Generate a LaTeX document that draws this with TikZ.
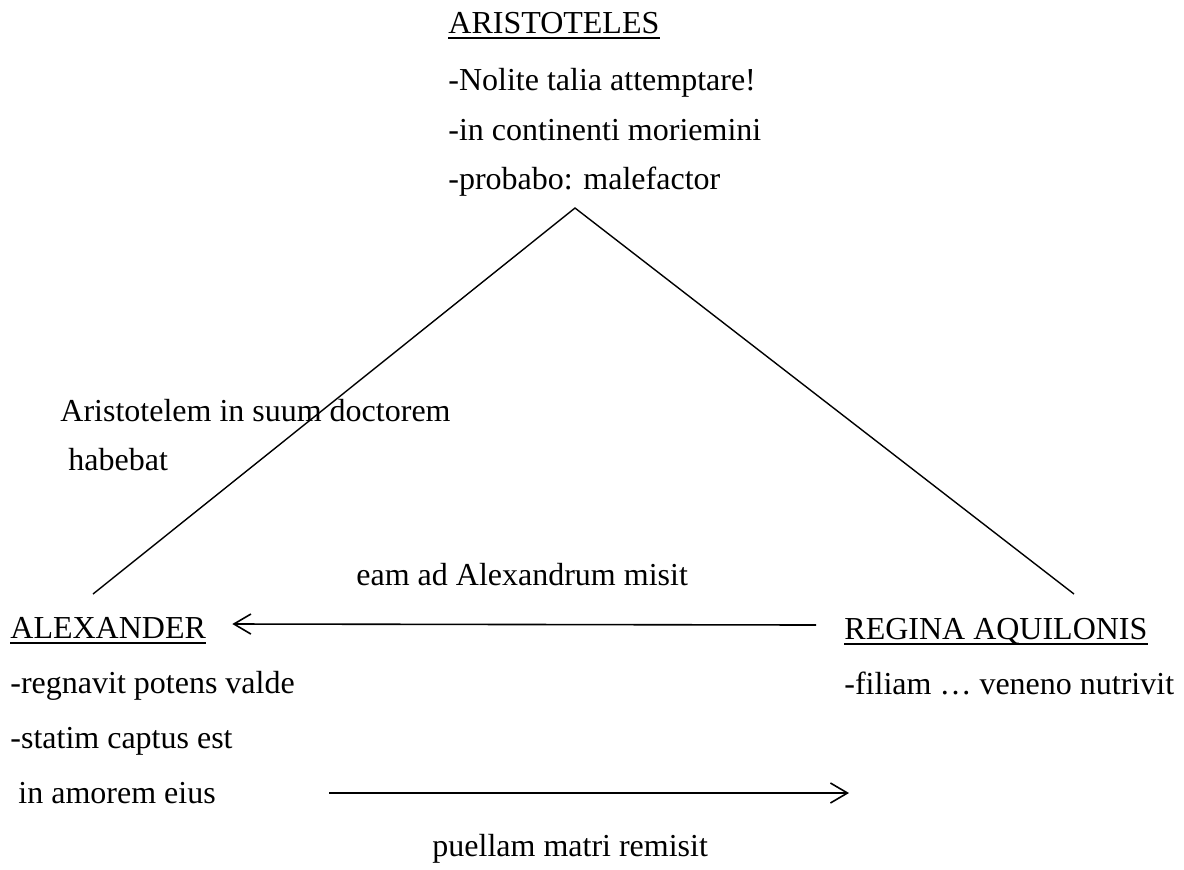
\documentclass[tikz,border=0pt]{standalone}
\usepackage{fontspec}
\setmainfont{Liberation Serif}
\usetikzlibrary{arrows.meta, positioning}
\tikzset{
  txt/.style={anchor=base west, inner sep=0pt, font=\fontsize{16}{19}\selectfont},
  uline/.style={line width=1pt},
  link/.style={line width=0.7pt},
  arrow/.style={-{Straight Barb[length=8.5pt, width=10pt]}, line width=0.8pt},
}

\begin{document}
\begin{tikzpicture}[x=0.5pt, y=-0.5pt]
  \useasboundingbox (0,0) rectangle (1184,869);

  % top block
  \node[txt] (aris)  at (448,33)  {ARISTOTELES};
  \node[txt] (aris1) at (448,90)  {-Nolite talia attemptare!};
  \node[txt] (aris2) at (448,140) {-in continenti moriemini};
  \node[txt] (aris3) at (448,189) {-probabo: malefactor};

  % side label
  \node[txt] (doc1) at (60,421) {Aristotelem in suum doctorem};
  \node[txt] (doc2) at (68,470) {habebat};

  \node[txt] (misit) at (356,585) {eam ad Alexandrum misit};

  % left block
  \node[txt] (alex)  at (10,638) {ALEXANDER};
  \node[txt] (alex1) at (10,693) {-regnavit potens valde};
  \node[txt] (alex2) at (10,748) {-statim captus est};
  \node[txt] (alex3) at (18,803) {in amorem eius};

  % right block
  \node[txt] (regina)  at (844,639) {REGINA AQUILONIS};
  \node[txt] (regina1) at (844,694) {-filiam … veneno nutrivit};

  \node[txt] (remisit) at (432,856) {puellam matri remisit};

  % underlines
  \foreach \n in {aris, alex, regina}
    \draw[uline] ([yshift=-2.5pt]\n.base west) -- ([yshift=-2.5pt]\n.base east);

  % triangle
  \coordinate (apex) at (575,208);
  \coordinate (alexTop) at (93,594);
  \coordinate (reginaTop) at (1074,594);
  \draw[link] (alexTop) -- (apex) -- (reginaTop);

  % arrows
  \draw[arrow] ([xshift=-14pt, yshift=7pt]regina.base west) -- ([xshift=13pt, yshift=7pt]alex.base east);
  \coordinate (sendA) at (329,793);
  \coordinate (sendB) at (849,793);
  \draw[arrow] (sendA) -- (sendB);
\end{tikzpicture}
\end{document}
